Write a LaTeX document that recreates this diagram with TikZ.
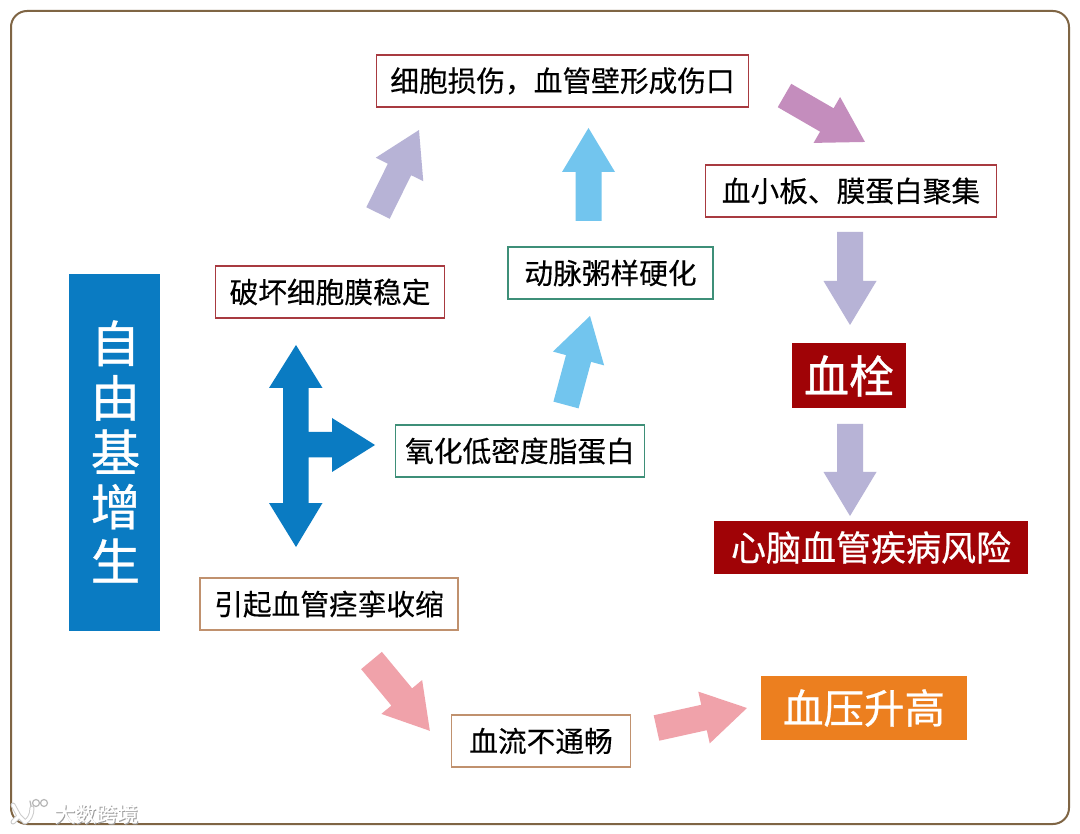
\documentclass[tikz,border=0pt]{standalone}
\usepackage{fontspec}
\newfontfamily\cjk[FakeBold=0.25]{Noto Sans CJK SC}
\newfontfamily\cjkb[FakeBold=0.7]{Noto Sans CJK SC}
\usetikzlibrary{calc}
\definecolor{frameb}{HTML}{7F6544}
\definecolor{bluebar}{HTML}{0A7BC2}
\definecolor{darkred}{HTML}{A00306}
\definecolor{orangeb}{HTML}{EC7F1F}
\definecolor{lav}{HTML}{B7B3D6}
\definecolor{skyb}{HTML}{72C5EE}
\definecolor{pinkr}{HTML}{F0A2AA}
\definecolor{orchid}{HTML}{C48DBD}
\definecolor{redline}{HTML}{A83A40}
\definecolor{greenline}{HTML}{3E8F78}
\definecolor{tanline}{HTML}{C0916E}
\tikzset{
 lab/.style={draw=#1,line width=1.6pt,fill=white,inner sep=0pt,font=\cjk\fontsize{28.7}{34}\selectfont,text=black,anchor=center},
 solid box/.style={fill=#1,text=white,inner sep=0pt,font=\cjk,anchor=center}}
% block arrow from tail to tip: shaft width, head width, head length, colour
\newcommand{\fatarrow}[6]{%
 \path let \p1=($(#2)-(#1)$), \n1={atan2(\y1,\x1)}, \n2={veclen(\x1,\y1)} in
  [fill=#6] [shift={(#1)},rotate=\n1]
  (0,{-(#3)/2}) -- ({\n2-(#5)},{-(#3)/2}) -- ({\n2-(#5)},{-(#4)/2}) -- (\n2,0) -- ({\n2-(#5)},{(#4)/2}) -- ({\n2-(#5)},{(#3)/2}) -- (0,{(#3)/2}) -- cycle;}
\begin{document}
\begin{tikzpicture}[x=1pt,y=-1pt]
\useasboundingbox (0,0) rectangle (1080,834);
\fill[white] (0,0) rectangle (1080,834);
\draw[frameb,line width=2pt,rounded corners=16pt] (11,11) rectangle (1069,824);
% boxes
\node[solid box=bluebar,minimum width=91pt,minimum height=356pt] (zy) at (114.5,452.5) {};
\node[text=white,font=\cjkb\fontsize{49.5}{54.5}\selectfont,align=center] (zyt) at (115.5,451.5) {自\\由\\基\\增\\生};
\node[lab=redline,minimum width=372pt,minimum height=52pt] (a) at (562.5,81) {细胞损伤，血管壁形成伤口};
\node[lab=redline,minimum width=291pt,minimum height=52pt] (b) at (851,191) {血小板、膜蛋白聚集};
\node[lab=redline,minimum width=229pt,minimum height=52pt] (c) at (330,292) {破坏细胞膜稳定};
\node[lab=greenline,minimum width=205pt,minimum height=52pt] (d) at (610.5,273) {动脉粥样硬化};
\node[lab=greenline,minimum width=249pt,minimum height=52pt] (e) at (520,451) {氧化低密度脂蛋白};
\node[lab=tanline,minimum width=258pt,minimum height=52pt] (f) at (329,604) {引起血管痉挛收缩};
\node[lab=tanline,minimum width=179pt,minimum height=52pt] (g) at (541,741) {血流不通畅};
\node[solid box=darkred,minimum width=114pt,minimum height=65pt,font=\cjkb\fontsize{45}{52}\selectfont] (h) at (849,376) {血栓};
\node[solid box=darkred,minimum width=314pt,minimum height=53pt,font=\cjkb\fontsize{35}{40}\selectfont] (i) at (871,547.5) {心脑血管疾病风险};
\node[solid box=orangeb,minimum width=206pt,minimum height=64pt,font=\cjkb\fontsize{40.5}{46}\selectfont] (j) at (864,708) {血压升高};
% arrows
\coordinate (p1a) at (378,213); \coordinate (p1b) at (419,130);
\fatarrow{p1a}{p1b}{26}{53}{44}{lav}
\coordinate (p2a) at (588.5,221); \coordinate (p2b) at (588.5,128);
\fatarrow{p2a}{p2b}{26}{53}{44}{skyb}
\coordinate (p3a) at (784.5,95.5); \coordinate (p3b) at (865,142);
\fatarrow{p3a}{p3b}{27}{53}{44}{orchid}
\coordinate (p4a) at (850,232); \coordinate (p4b) at (850,325);
\fatarrow{p4a}{p4b}{26}{53}{44}{lav}
\coordinate (p5a) at (850,424); \coordinate (p5b) at (850,516);
\fatarrow{p5a}{p5b}{26}{53}{44}{lav}
\coordinate (p6a) at (566,405); \coordinate (p6b) at (590,316);
\fatarrow{p6a}{p6b}{26}{53}{44}{skyb}
\coordinate (p7a) at (371.5,660.5); \coordinate (p7b) at (430,731);
\fatarrow{p7a}{p7b}{27}{53}{44}{pinkr}
\coordinate (p8a) at (656.5,728); \coordinate (p8b) at (747,708);
\fatarrow{p8a}{p8b}{26}{53}{44}{pinkr}
% T arrow
\fill[bluebar] (283,388) -- (269,388) -- (296,345) -- (322.5,388) -- (308.5,388) -- (308.5,432) -- (332,432) -- (332,418) -- (375,445) -- (332,472) -- (332,457.5) -- (308.5,457.5) -- (308.5,503) -- (322.5,503) -- (296,547) -- (269,503) -- (283,503) -- cycle;
% watermark
\begin{scope}[line cap=round,line join=round]
 \foreach \c/\w in {black!20/5,white/3}{
  \draw[\c,line width=\w pt] (13,805) -- (19,816) -- (25,822) (13,822) -- (19,816);
  \draw[\c,line width=\w pt] (25,822) .. controls (29,820) and (32,815) .. (32,808);
 }
 \draw[black!28,line width=1.2pt] (31,806) -- (30,801) (36,803) circle (3.5) (44,803) circle (3.5);
\end{scope}
\node[text=black!38,font=\cjk\fontsize{21}{24}\selectfont,anchor=west,inner sep=0pt] (wms) at (55,815) {大数跨境};
\node[text=white,font=\cjk\fontsize{21}{24}\selectfont,anchor=west,inner sep=0pt] (wm) at (54,814) {大数跨境};
\end{tikzpicture}
\end{document}
